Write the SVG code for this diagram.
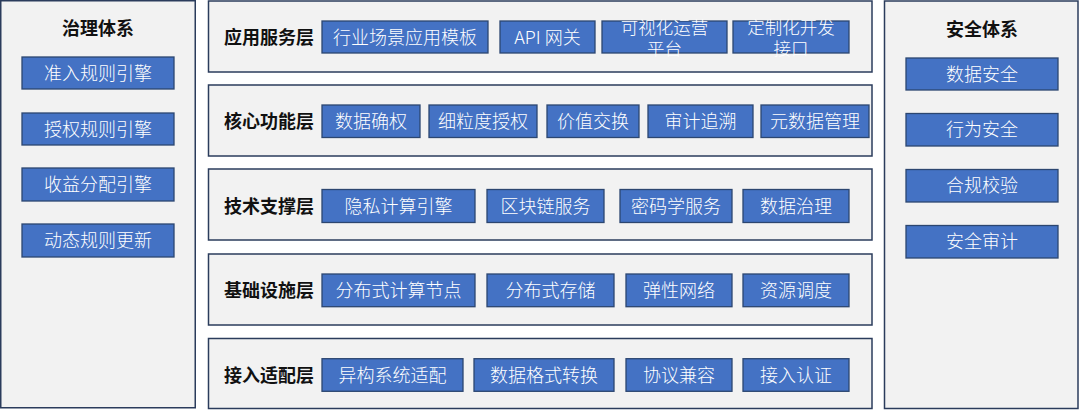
<svg xmlns="http://www.w3.org/2000/svg" width="1080" height="410" viewBox="0 0 1080 410">
<style>
.panel{fill:#f2f2f2;stroke:#2b3c5c;stroke-width:1.5}
.btn{fill:#4472c4;stroke:#2c4670;stroke-width:1.3}
.t{font-family:"Noto Sans CJK SC","Liberation Sans",sans-serif;font-size:18px;font-weight:300;fill:#ffffff;text-anchor:middle}
.w{font-size:17.5px}
.h{font-family:"Noto Sans CJK SC","Liberation Sans",sans-serif;font-size:18px;font-weight:bold;fill:#111111;text-anchor:middle}
</style>
<rect width="1080" height="410" fill="#ffffff"/>
<g id="governance">
<rect class="panel" x="0.75" y="0.75" width="194.5" height="407"/>
<text class="h" x="98" y="35">治理体系</text>
<g id="gov1"><rect class="btn" x="22" y="57" width="152" height="32"/><text class="t" x="98" y="79.5">准入规则引擎</text></g>
<g id="gov2"><rect class="btn" x="22" y="113" width="152" height="32"/><text class="t" x="98" y="135.5">授权规则引擎</text></g>
<g id="gov3"><rect class="btn" x="22" y="168" width="152" height="33"/><text class="t" x="98" y="191">收益分配引擎</text></g>
<g id="gov4"><rect class="btn" x="22" y="224" width="152" height="33"/><text class="t" x="98" y="247">动态规则更新</text></g>
</g>
<g id="security">
<rect class="panel" x="884.5" y="1" width="193.5" height="407.5"/>
<text class="h" x="982" y="36">安全体系</text>
<g id="sec1"><rect class="btn" x="906" y="58" width="152" height="32"/><text class="t" x="982" y="80.5">数据安全</text></g>
<g id="sec2"><rect class="btn" x="906" y="113.5" width="152" height="32.5"/><text class="t" x="982" y="136">行为安全</text></g>
<g id="sec3"><rect class="btn" x="906" y="169.5" width="152" height="32.5"/><text class="t" x="982" y="192">合规校验</text></g>
<g id="sec4"><rect class="btn" x="906" y="225.5" width="152" height="32.5"/><text class="t" x="982" y="248">安全审计</text></g>
</g>
<g id="layer-app">
<rect class="panel" x="208.5" y="1" width="663.5" height="71"/>
<text class="h" x="269" y="43.5">应用服务层</text>
<g id="app1"><rect class="btn" x="322" y="21" width="166" height="32"/><text class="t" x="405" y="43.5">行业场景应用模板</text></g>
<g id="app2"><rect class="btn" x="500" y="21" width="95" height="32"/><text class="t" x="547.5" y="43.5">API 网关</text></g>
<g id="app3"><rect class="btn" x="602" y="21" width="125" height="32"/><text class="t w" x="664.5" y="33.5">可视化运营</text><text class="t w" x="664.5" y="54.5">平台</text></g>
<g id="app4"><rect class="btn" x="733" y="21" width="116" height="32"/><text class="t w" x="791" y="33.5">定制化开发</text><text class="t w" x="791" y="54.5">接口</text></g>
</g>
<g id="layer-core">
<rect class="panel" x="208.5" y="85" width="663.5" height="71"/>
<text class="h" x="269" y="127.8">核心功能层</text>
<g id="core1"><rect class="btn" x="322" y="105" width="98" height="32.5"/><text class="t" x="371" y="127.8">数据确权</text></g>
<g id="core2"><rect class="btn" x="429" y="105" width="108" height="32.5"/><text class="t" x="483" y="127.8">细粒度授权</text></g>
<g id="core3"><rect class="btn" x="547" y="105" width="92" height="32.5"/><text class="t" x="593" y="127.8">价值交换</text></g>
<g id="core4"><rect class="btn" x="648" y="105" width="105" height="32.5"/><text class="t" x="700.5" y="127.8">审计追溯</text></g>
<g id="core5"><rect class="btn" x="761" y="105" width="108" height="32.5"/><text class="t" x="815" y="127.8">元数据管理</text></g>
</g>
<g id="layer-tech">
<rect class="panel" x="208.5" y="169" width="663.5" height="71"/>
<text class="h" x="269" y="212.5">技术支撑层</text>
<g id="tech1"><rect class="btn" x="322" y="189.5" width="153" height="33"/><text class="t" x="398.5" y="212.5">隐私计算引擎</text></g>
<g id="tech2"><rect class="btn" x="487" y="189.5" width="117" height="33"/><text class="t" x="545.5" y="212.5">区块链服务</text></g>
<g id="tech3"><rect class="btn" x="620" y="189.5" width="112" height="33"/><text class="t" x="676" y="212.5">密码学服务</text></g>
<g id="tech4"><rect class="btn" x="743" y="189.5" width="106" height="33"/><text class="t" x="796" y="212.5">数据治理</text></g>
</g>
<g id="layer-infra">
<rect class="panel" x="208.5" y="254" width="663.5" height="71"/>
<text class="h" x="269" y="296.8">基础设施层</text>
<g id="inf1"><rect class="btn" x="322" y="274" width="153" height="32.7"/><text class="t" x="398.5" y="296.8">分布式计算节点</text></g>
<g id="inf2"><rect class="btn" x="487" y="274" width="127" height="32.7"/><text class="t" x="550.5" y="296.8">分布式存储</text></g>
<g id="inf3"><rect class="btn" x="626" y="274" width="106" height="32.7"/><text class="t" x="679" y="296.8">弹性网络</text></g>
<g id="inf4"><rect class="btn" x="743" y="274" width="106" height="32.7"/><text class="t" x="796" y="296.8">资源调度</text></g>
</g>
<g id="layer-access">
<rect class="panel" x="208.5" y="338.5" width="663.5" height="70"/>
<text class="h" x="269" y="381.5">接入适配层</text>
<g id="acc1"><rect class="btn" x="322" y="358.7" width="141" height="32.6"/><text class="t" x="392.5" y="381.5">异构系统适配</text></g>
<g id="acc2"><rect class="btn" x="474" y="358.7" width="140" height="32.6"/><text class="t" x="544" y="381.5">数据格式转换</text></g>
<g id="acc3"><rect class="btn" x="626" y="358.7" width="106" height="32.6"/><text class="t" x="679" y="381.5">协议兼容</text></g>
<g id="acc4"><rect class="btn" x="743" y="358.7" width="106" height="32.6"/><text class="t" x="796" y="381.5">接入认证</text></g>
</g>
<g id="connectors"></g>
</svg>
